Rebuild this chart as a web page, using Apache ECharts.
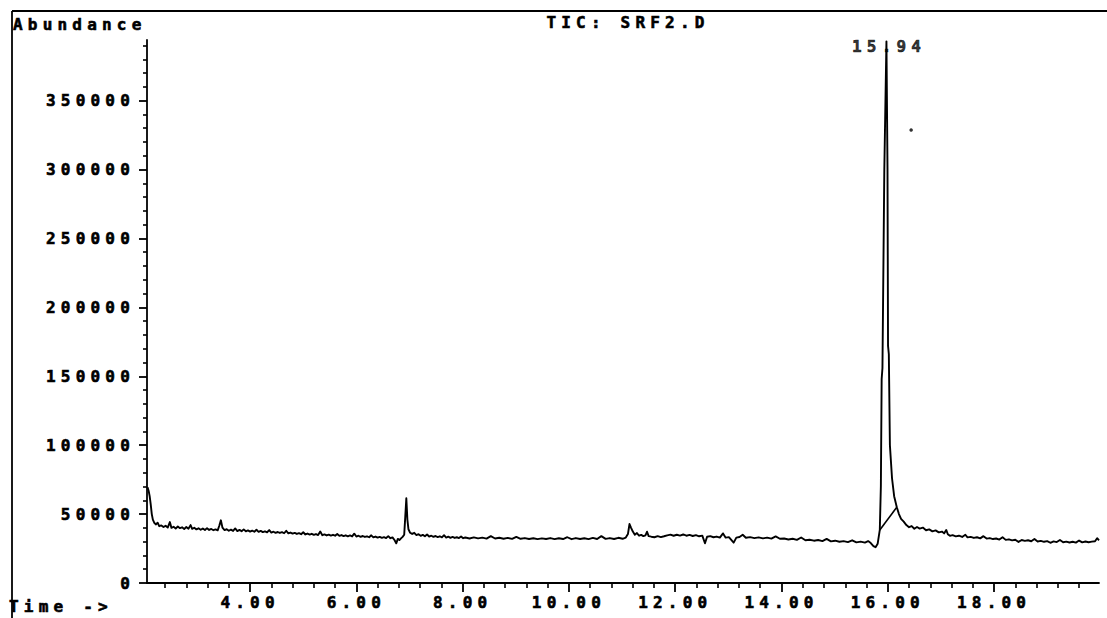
<!DOCTYPE html>
<html>
<head>
<meta charset="utf-8">
<script src="https://cdn.jsdelivr.net/npm/echarts@6/dist/echarts.min.js"></script>
<style>
html,body{margin:0;padding:0;background:#fff;}
#chart{width:1107px;height:618px;}
#chart text{letter-spacing:5.2px;}
</style>
</head>
<body>
<div id="chart"></div>
<script>
// ---- data ----
const chartTitle = 'TIC: SRF2.D';
const yAxisTitle = 'Abundance';
const xAxisTitle = 'Time ->';

// [time (min), abundance]
const ticTrace = [
[2.07,69500],[2.09,67000],[2.11,63000],[2.13,57000],[2.15,50000],[2.17,46000],[2.20,43500],[2.23,42500],
[2.26,43800],[2.29,41200],[2.33,41800],[2.37,40600],[2.41,41500],[2.45,40200],[2.49,44200],[2.52,40000],
[2.56,40800],[2.60,39600],[2.64,41000],[2.68,39800],[2.72,40400],[2.76,39200],[2.80,40600],[2.84,39400],
[2.88,42000],[2.91,39300],[2.95,40100],[2.99,38900],[3.03,39700],[3.07,38600],[3.11,39500],[3.15,38400],
[3.19,39800],[3.23,38500],[3.27,39200],[3.31,38300],[3.35,38900],[3.39,38200],[3.42,41500],[3.45,45500],
[3.48,40200],[3.52,38400],[3.56,39000],[3.60,37900],[3.64,38700],[3.68,37800],[3.72,39600],[3.76,37700],
[3.80,38500],[3.84,37600],[3.88,38900],[3.92,37500],[3.96,38200],[4.00,37300],[4.04,38000],[4.08,37200],
[4.12,38600],[4.16,37100],[4.20,37800],[4.24,36900],[4.28,37500],[4.32,36800],[4.36,38400],[4.40,36600],
[4.44,37200],[4.48,36400],[4.52,37000],[4.56,36300],[4.60,36900],[4.64,36100],[4.68,37900],[4.72,36000],
[4.76,36600],[4.80,35800],[4.84,36400],[4.88,35600],[4.92,36200],[4.96,35400],[5.00,36800],[5.04,35200],
[5.08,35900],[5.12,35100],[5.16,35700],[5.20,34900],[5.24,35500],[5.28,34800],[5.32,37400],[5.36,34700],
[5.40,35300],[5.44,34500],[5.48,35100],[5.52,34400],[5.56,35000],[5.60,34300],[5.64,35600],[5.68,34200],
[5.72,34800],[5.76,34000],[5.80,34600],[5.84,33900],[5.88,34500],[5.92,33800],[5.96,35800],[6.00,33700],
[6.04,34300],[6.08,33500],[6.12,34100],[6.16,33400],[6.20,33900],[6.24,33200],[6.28,34600],[6.32,33100],
[6.36,33700],[6.40,32900],[6.44,33500],[6.48,32800],[6.52,33300],[6.56,32600],[6.60,34000],[6.64,32500],
[6.68,33100],[6.72,31000],[6.75,28800],[6.78,32000],[6.81,31200],[6.84,32400],[6.87,33500],[6.90,35000],
[6.92,48000],[6.94,61500],[6.96,46000],[6.98,39000],[7.01,36500],[7.05,35600],[7.09,36400],[7.13,34800],
[7.17,35400],[7.21,34200],[7.25,34900],[7.29,33900],[7.33,35200],[7.37,33700],[7.41,34300],[7.45,33500],
[7.49,34100],[7.53,33300],[7.57,33900],[7.61,33100],[7.65,34700],[7.69,33000],[7.73,33600],[7.77,32800],
[7.81,33400],[7.85,32700],[7.89,33200],[7.93,32600],[7.97,33800],[8.01,32500],[8.05,33000],[8.13,32300],
[8.21,33100],[8.29,32400],[8.37,32900],[8.45,32200],[8.53,34000],[8.61,32300],[8.69,32800],[8.77,32100],
[8.85,32700],[8.93,32000],[9.01,33500],[9.09,32100],[9.17,32600],[9.25,31900],[9.33,32500],[9.41,31800],
[9.49,32400],[9.57,31900],[9.65,32600],[9.73,31800],[9.81,32500],[9.89,31900],[9.97,33200],[10.05,31800],
[10.13,32600],[10.21,31900],[10.29,32500],[10.37,31800],[10.45,32700],[10.53,31900],[10.61,34000],[10.69,32000],
[10.77,32600],[10.85,31900],[10.93,32800],[11.01,32100],[11.07,33000],[11.11,35500],[11.14,42800],[11.17,40000],
[11.20,37500],[11.24,35000],[11.28,36200],[11.32,34300],[11.36,34900],[11.40,34000],[11.44,34600],[11.47,37200],
[11.50,34000],[11.55,33600],[11.61,33200],[11.67,34000],[11.73,33300],[11.79,33900],[11.85,34600],[11.91,35100],
[11.97,34300],[12.03,35000],[12.09,34400],[12.15,35200],[12.21,34300],[12.27,34900],[12.33,34100],[12.39,34700],
[12.45,33900],[12.51,34400],[12.56,28800],[12.60,33600],[12.66,34000],[12.72,33200],[12.78,33700],[12.84,32900],
[12.90,36000],[12.95,32900],[13.01,33300],[13.10,29300],[13.15,32900],[13.21,33400],[13.27,35000],[13.33,32800],
[13.41,33300],[13.49,32600],[13.57,33100],[13.65,32400],[13.73,32900],[13.81,32200],[13.89,33800],[13.97,32100],
[14.05,32300],[14.13,31600],[14.21,32100],[14.29,31300],[14.37,33000],[14.45,31000],[14.53,31400],[14.61,30700],
[14.69,31200],[14.77,30400],[14.85,32000],[14.93,30200],[15.01,30700],[15.09,29900],[15.17,30400],[15.25,29700],
[15.33,31000],[15.41,29500],[15.49,30000],[15.57,29300],[15.63,30400],[15.68,29000],[15.73,26800],[15.77,26000],
[15.81,28500],[15.85,38500],[15.87,70000],[15.885,148000],[15.90,156000],[15.935,300000],[15.975,393000],[15.995,300000],
[16.005,172000],[16.02,166000],[16.04,100000],[16.08,76000],[16.12,63000],[16.17,55000],[16.21,50000],[16.25,46500],
[16.30,44500],[16.35,42000],[16.40,40500],[16.45,41300],[16.50,39400],[16.55,40600],[16.60,39500],[16.66,40200],
[16.72,38300],[16.78,38900],[16.84,37500],[16.90,38200],[16.96,36700],[17.02,37300],[17.06,36000],[17.10,38500],
[17.13,35400],[17.17,34200],[17.22,34700],[17.28,33800],[17.34,34300],[17.40,33400],[17.46,35000],[17.50,33100],
[17.56,33500],[17.62,32700],[17.68,33200],[17.74,32400],[17.80,34000],[17.86,32200],[17.92,32600],[17.98,31900],
[18.04,32300],[18.10,31500],[18.16,33200],[18.22,31300],[18.28,31700],[18.34,30900],[18.40,31400],[18.46,29800],
[18.52,31200],[18.58,30600],[18.64,31000],[18.70,30300],[18.76,32000],[18.82,30100],[18.88,30600],[18.94,29900],
[19.00,30400],[19.06,29200],[19.12,30200],[19.18,29700],[19.24,31200],[19.30,29600],[19.36,30000],[19.42,29400],
[19.48,29900],[19.54,29300],[19.60,30800],[19.66,29500],[19.72,30100],[19.78,29600],[19.84,30000],[19.90,30300],
[19.94,32500],[19.975,31000]
];

// integration baseline drawn under the main peak
const integrationBaseline = [[15.85,38500],[16.17,55000]];

// retention-time annotation of the main peak
const peakLabelPoint = [[15.975,389000]];
const peakLabelText = '15.94';

// small stray dot in the reference
const strayDot = [[16.44,328700]];

// axis extent and ticks
const timeMin = 2.06, timeMax = 19.975;
const abundanceMin = 0, abundanceMax = 394000;
const timeTicks = [4,6,8,10,12,14,16,18];
const timeMinorTicks = [2.4,2.8,3.2,3.6,4.4,4.8,5.2,5.6,6.4,6.8,7.2,7.6,8.4,8.8,9.2,9.6,10.4,10.8,11.2,11.6,
  12.4,12.8,13.2,13.6,14.4,14.8,15.2,15.6,16.4,16.8,17.2,17.6,18.4,18.8,19.2,19.6];
const abundanceTicks = [0,50000,100000,150000,200000,250000,300000,350000];
const abundanceMinorTicks = [10000,20000,30000,40000,60000,70000,80000,90000,110000,120000,130000,140000,
  160000,170000,180000,190000,210000,220000,230000,240000,260000,270000,280000,290000,
  310000,320000,330000,340000,360000,370000,380000,390000];

// ---- chart ----
const FONT = '"DejaVu Sans Mono", monospace';
const INK = '#000';
const chart = echarts.init(document.getElementById('chart'), null, {renderer: 'svg'});

const textInk = {color: INK, fontFamily: FONT, fontWeight: 'bold', fontSize: 16,
  textBorderColor: INK, textBorderWidth: 0.6};

const baseX = {type: 'value', min: timeMin, max: timeMax, gridIndex: 0, splitLine: {show: false}};
const baseY = {type: 'value', min: abundanceMin, max: abundanceMax, gridIndex: 0, splitLine: {show: false}};

chart.setOption({
  animation: false,
  backgroundColor: '#fff',
  grid: {left: 147, right: 8, top: 40, bottom: 35, containLabel: false},
  xAxis: [
    Object.assign({}, baseX, {
      position: 'bottom',
      axisLine: {show: true, onZero: false, lineStyle: {color: INK, width: 1.8}},
      axisTick: {show: true, customValues: timeTicks, length: 9, lineStyle: {color: INK, width: 1.8}},
      axisLabel: Object.assign({show: true, customValues: timeTicks, margin: 11,
        formatter: v => Number(v).toFixed(2)}, textInk)
    }),
    Object.assign({}, baseX, {
      position: 'bottom',
      axisLine: {show: false},
      axisTick: {show: true, customValues: timeMinorTicks, length: 5, lineStyle: {color: INK, width: 1.6}},
      axisLabel: {show: false}
    })
  ],
  yAxis: [
    Object.assign({}, baseY, {
      position: 'left',
      axisLine: {show: true, onZero: false, lineStyle: {color: INK, width: 1.8}},
      axisTick: {show: true, customValues: abundanceTicks, length: 8, lineStyle: {color: INK, width: 1.8}},
      axisLabel: Object.assign({show: true, customValues: abundanceTicks, margin: 12,
        formatter: v => String(Math.round(v))}, textInk)
    }),
    Object.assign({}, baseY, {
      position: 'left',
      axisLine: {show: false},
      axisTick: {show: true, customValues: abundanceMinorTicks, length: 4, lineStyle: {color: INK, width: 1.6}},
      axisLabel: {show: false}
    })
  ],
  series: [
    {
      name: 'peakLabel', type: 'scatter', xAxisIndex: 0, yAxisIndex: 0, z: 1,
      data: peakLabelPoint, symbolSize: 0, silent: true,
      label: Object.assign({show: true, position: 'inside', offset: [2.6, 0],
        formatter: () => peakLabelText}, textInk)
    },
    {
      name: 'TIC', type: 'line', xAxisIndex: 0, yAxisIndex: 0, z: 3,
      data: ticTrace, showSymbol: false, symbol: 'none', smooth: false,
      lineStyle: {color: INK, width: 1.9, join: 'round'}
    },
    {
      name: 'baseline', type: 'line', xAxisIndex: 0, yAxisIndex: 0, z: 3,
      data: integrationBaseline, showSymbol: false, symbol: 'none',
      lineStyle: {color: INK, width: 1.6}
    },
    {
      name: 'dot', type: 'scatter', xAxisIndex: 0, yAxisIndex: 0, z: 3,
      data: strayDot, symbolSize: 3.5, itemStyle: {color: INK}, silent: true
    }
  ],
  graphic: [
    {type: 'line', shape: {x1: 12, y1: 11, x2: 1107, y2: 11}, style: {stroke: INK, lineWidth: 1.8}},
    {type: 'line', shape: {x1: 12, y1: 11, x2: 12, y2: 618}, style: {stroke: INK, lineWidth: 1.8}},
    {type: 'text', x: 13, y: 24, style: {text: yAxisTitle, fill: INK, stroke: INK, lineWidth: 0.6,
      font: 'bold 16px ' + FONT, align: 'left', verticalAlign: 'middle',
      textAlign: 'left', textVerticalAlign: 'middle'}},
    {type: 'text', x: 628, y: 22, style: {text: chartTitle, fill: INK, stroke: INK, lineWidth: 0.6,
      font: 'bold 16px ' + FONT, align: 'center', verticalAlign: 'middle',
      textAlign: 'center', textVerticalAlign: 'middle'}},
    {type: 'text', x: 9, y: 606, style: {text: xAxisTitle, fill: INK, stroke: INK, lineWidth: 0.6,
      font: 'bold 16px ' + FONT, align: 'left', verticalAlign: 'middle',
      textAlign: 'left', textVerticalAlign: 'middle'}}
  ]
});
</script>
</body>
</html>
